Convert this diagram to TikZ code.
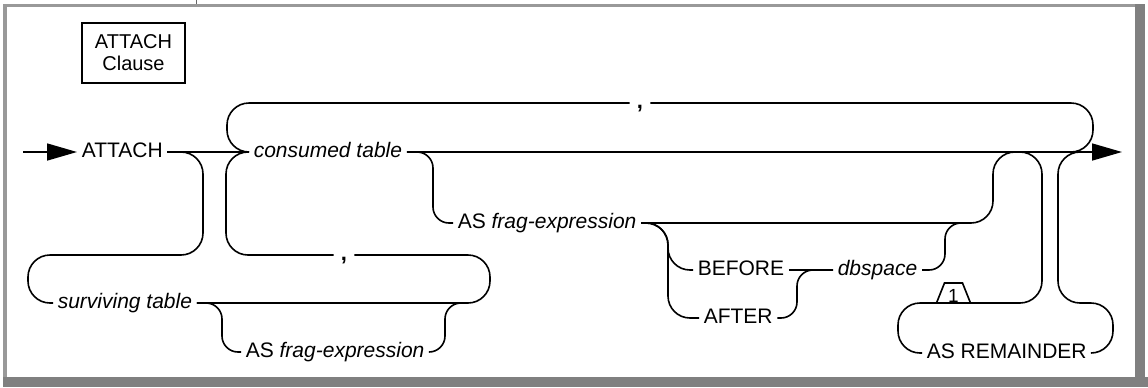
\documentclass[tikz,border=0pt]{standalone}
\usepackage{fontspec}
\setmainfont{Liberation Sans}
\usetikzlibrary{arrows.meta,shapes.geometric}

\begin{document}
\begin{tikzpicture}[x=0.5pt, y=-0.5pt, line width=0.8pt,
  every node/.style={font=\fontsize{10.5}{12}\selectfont},
  lbl/.style={inner xsep=2pt, inner ysep=0pt, anchor=mid west},
  rc/.style={rounded corners=11pt},
  sbend/.style={rounded corners=8pt},
  tip/.style={-{Triangle[length=15pt,width=8.5pt]}}]
 \useasboundingbox (0,0) rectangle (1148,387);
 \fill[black!40] (3,4) rectangle (1140,7);
 \fill[black!40] (3,4) rectangle (7,377);
 \fill[black!50] (1135,4) rectangle (1145,387);
 \fill[black!50] (3,377) rectangle (1148,387);
 \draw[black!60, line width=0.5pt] (196,0) -- (196,4);

 \node(title) [draw, line width=1.2pt, minimum width=51.5pt, minimum height=30pt, inner sep=0pt, align=center, font=\fontsize{10}{11}\selectfont] at (133.5,53) {ATTACH\\Clause};

 \coordinate(start) at (23,152);
 \coordinate(stop) at (1122,152);
 \node(attach) [lbl] at (77,152) {ATTACH};
 \node(consumed) [lbl] at (249,152) {\itshape consumed table};
 \node(asfragc) [lbl] at (453,223) {AS \textit{frag-expression}};
 \node(before) [lbl] at (693,270) {BEFORE};
 \node(after) [lbl] at (699,318) {AFTER};
 \node(dbspace) [lbl] at (833,270) {\itshape dbspace};
 \node(surviving) [lbl] at (53,303) {\itshape surviving table};
 \node(asfrags) [lbl] at (241,352) {AS \textit{frag-expression}};
 \node(remainder) [lbl] at (922,353) {AS REMAINDER};
 \node(commac) [lbl, inner xsep=3.2pt, anchor=mid, font=\fontsize{11}{12}\bfseries] at (640,103) {,};
 \node(commas) [lbl, inner xsep=3.2pt, anchor=mid, font=\fontsize{11}{12}\bfseries] at (344,255) {,};
 \node(noteone) [inner sep=0pt, font=\fontsize{9.5}{10}\selectfont] at (953.5,295.5) {1};
 \draw[line width=0.8pt] (noteone.center) ++(-17,7.5) -- ++(8,-20) -- ++(18,0) -- ++(8,20);

 \coordinate(jfrag) at (1015,152);
 \coordinate(jrem) at (1020,152);
 \coordinate(jloop) at (1070,152);
 \coordinate(jback) at (1080,152);
 \coordinate(jsurv) at (461,303);
 \coordinate(jdb) at (970,223);

 \draw[tip] (start) -- (attach.mid west);
 \draw (attach.mid east) -- (consumed.mid west);
 \draw[tip] (consumed.mid east) -- (stop);

 \draw[rc] (consumed.mid west) -- (227,152) |- (commac.mid west);
 \draw[rc] (commac.mid east) -| (1093,152) -- (jloop);

 \draw[rc] (attach.mid east) -| (203,255) -| (28,303) -- (surviving.mid west);
 \draw[rc] (commas.mid west) -| (226,152) -- (consumed.mid west);
 \draw[rc] (surviving.mid east) -| (490,255) -- (commas.mid east);
 \draw[sbend] (surviving.mid east) -| (222,352) -- (asfrags.mid west);
 \draw[sbend] (asfrags.mid east) -| (445,303) -- (jsurv);

 \draw[sbend] (consumed.mid east) -| (433,223) -- (asfragc.mid west);
 \draw[rc] (asfragc.mid east) -| (993,152) -- (jfrag);
 \draw[rc] (asfragc.mid east) -| (668,270) -- (before.mid west);
 \draw[rc] (asfragc.mid east) -| (668,318) -- (after.mid west);
 \draw (before.mid east) -- (dbspace.mid west);
 \draw[sbend] (after.mid east) -| (797,270) -- (dbspace.mid west);
 \draw[sbend] (dbspace.mid east) -| (945,223) -- (jdb);

 \draw[rc] (jrem) -| (1042,303) -| (898,353) -- (remainder.mid west);
 \draw[rc] (remainder.mid east) -| (1113,303) -| (1058,152) -- (jback);
\end{tikzpicture}
\end{document}
